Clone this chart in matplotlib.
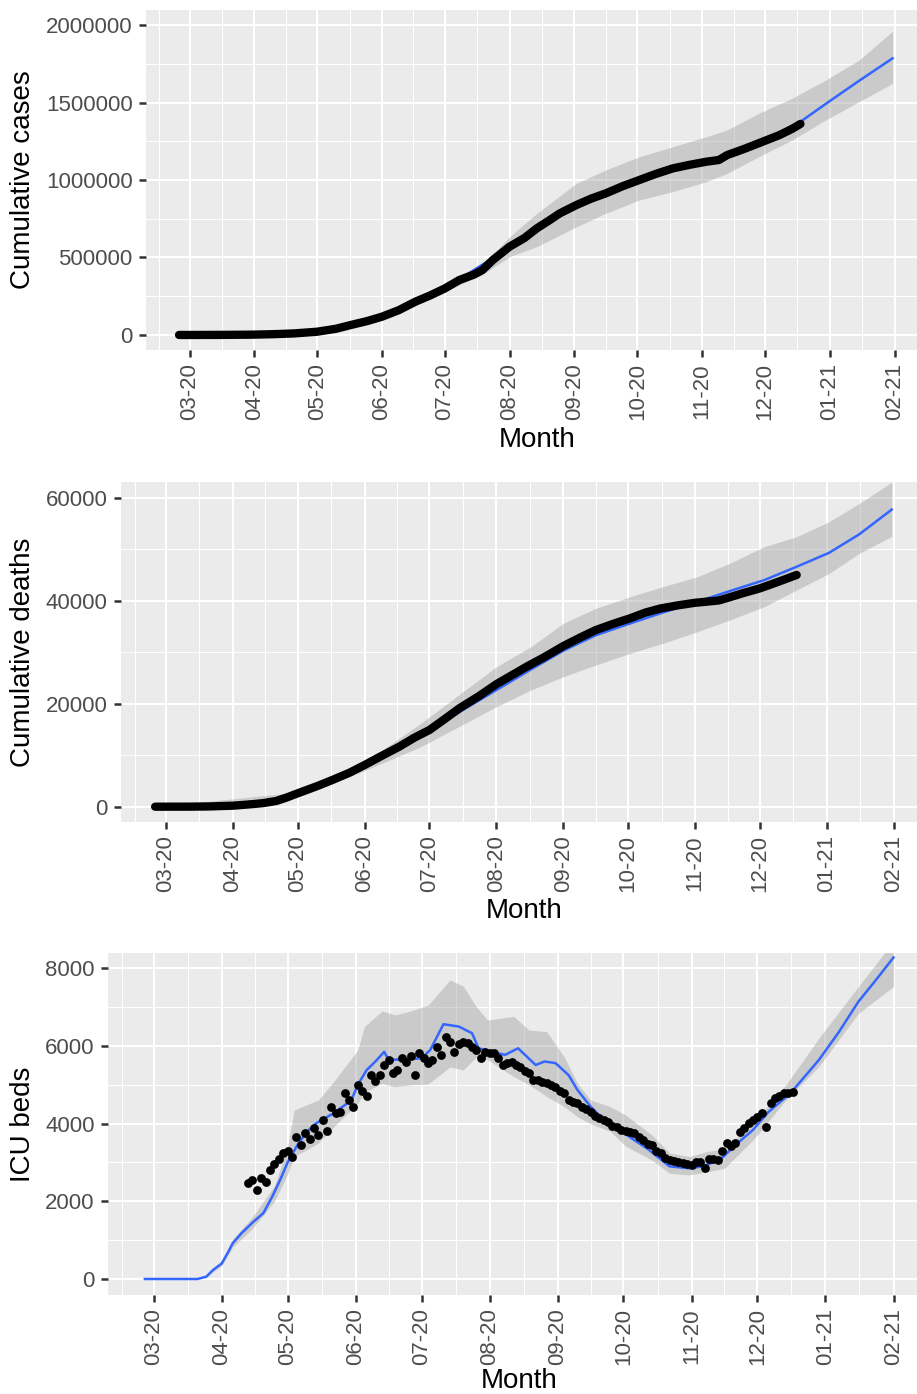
import numpy as np
import matplotlib
matplotlib.use('Agg')
import matplotlib.pyplot as plt
import matplotlib.dates as mdates
from matplotlib.ticker import FixedLocator, FuncFormatter

plt.rcParams['font.family'] = ['Liberation Sans', 'DejaVu Sans']

# all day values are days after 1 March 2020
origin = np.datetime64('2020-03-01')

# ---- cumulative cases
cases_day = [-5, 0, 15, 30, 40, 50, 61, 70, 77, 85, 92, 100, 108, 115, 122, 129, 136, 140, 145,
             153, 160, 166, 172, 177, 185, 192, 199, 207, 215, 223, 231, 239, 247, 253, 257,
             265, 272, 282, 288, 292]
cases_val = [0, 0, 500, 2000, 5000, 10000, 21000, 40000, 64000, 90000, 118000, 160000, 215000,
             255000, 300000, 355000, 390000, 419000, 484000, 570000, 625000, 688000, 740000,
             785000, 839000, 880000, 914000, 960000, 1000000, 1040000, 1075000, 1098000, 1118000,
             1129000, 1161000, 1200000, 1237000, 1290000, 1330000, 1362000]
cases_fit_day = [-5, 61, 92, 122, 153, 177, 199, 215, 247, 272, 292, 305, 320, 336]
cases_fit_val = [0, 20000, 115000, 300000, 565000, 785000, 914000, 1000000, 1118000, 1237000,
                 1376000, 1500000, 1640000, 1785000]
cases_band_day = [-5, 61, 92, 122, 140, 153, 166, 185, 199, 215, 231, 247, 257, 272, 288, 304,
                  320, 336]
cases_lo = [0, 18000, 105000, 280000, 390000, 505000, 570000, 699000, 785000, 871000, 925000,
            989000, 1043000, 1150000, 1258000, 1387000, 1505000, 1624000]
cases_hi = [0, 24000, 130000, 325000, 450000, 634000, 785000, 979000, 1065000, 1150000, 1215000,
            1279000, 1323000, 1430000, 1527000, 1645000, 1774000, 1960000]

# ---- cumulative deaths
deaths_day = [-5, 10, 20, 31, 40, 45, 51, 56, 61, 70, 77, 85, 92, 100, 108, 115, 122, 129, 136,
              145, 153, 160, 167, 175, 184, 192, 199, 207, 215, 222, 229, 237, 245, 250, 256, 262,
              267, 275, 283, 292]
deaths_val = [0, 10, 50, 200, 500, 700, 1100, 1800, 2600, 4000, 5180, 6600, 8100, 9900, 11650,
              13400, 14900, 17000, 19150, 21500, 23800, 25500, 27200, 29000, 31200, 32900, 34300,
              35500, 36600, 37700, 38500, 39100, 39600, 39800, 40050, 40800, 41450, 42400, 43600,
              45000]
deaths_fit_day = [-5, 31, 47, 61, 77, 92, 108, 118, 136, 153, 170, 184, 199, 215, 230, 246, 262,
                  277, 292, 307, 321, 336]
deaths_fit_val = [0, 150, 900, 2500, 5000, 7800, 11200, 13900, 18400, 22660, 26900, 30300, 33300,
                  35600, 37700, 39800, 42000, 44000, 46600, 49300, 52900, 57700]
deaths_band_day = [-5, 61, 92, 118, 153, 169, 184, 199, 215, 230, 246, 261, 277, 292, 307, 321,
                   336]
deaths_lo = [0, 2200, 7000, 11650, 19420, 22660, 25240, 27520, 29780, 31730, 33980, 36250, 38830,
             42080, 45300, 49200, 52500]
deaths_hi = [0, 2800, 8600, 16200, 27180, 31070, 35610, 38520, 40780, 42720, 44660, 47260, 50490,
             52430, 55340, 58900, 63000]

# ---- ICU beds, observed every second day from 13 April 2020
icu_obs_start = 43
icu_obs = [2480, 2550, 2290, 2600, 2500, 2800, 2950, 3100, 3240, 3300, 3150, 3660, 3450, 3750,
           3600, 3880, 3700, 4090, 3800, 4440, 4270, 4300, 4780, 4600, 4440, 5000, 4850, 4700,
           5250, 5100, 5250, 5500, 5640, 5300, 5380, 5680, 5600, 5750, 5250, 5810, 5700, 5550,
           5650, 5980, 5770, 6240, 6110, 5850, 6050, 6110, 6070, 5980, 5900, 5680, 5850, 5830,
           5810, 5700, 5510, 5550, 5600, 5500, 5470, 5350, 5300, 5120, 5120, 5080, 5040, 5000,
           4950, 4850, 4780, 4600, 4560, 4520, 4420, 4390, 4300, 4200, 4140, 4100, 4050, 3950,
           3920, 3830, 3800, 3790, 3750, 3650, 3580, 3480, 3450, 3300, 3240, 3120, 3070, 3040,
           3020, 2980, 2950, 2930, 3000, 3020, 2850, 3100, 3080, 3070, 3300, 3490, 3420, 3500,
           3790, 3900, 4010, 4100, 4180, 4270, 3920, 4520, 4650, 4700, 4780, 4800, 4820]
icu_fit_day = [-4, 20, 24, 27, 31, 34, 36, 40, 45, 50, 54, 58, 61, 66, 70, 74, 82, 90, 93, 97,
               101, 105, 107, 122, 126, 132, 139, 145, 148, 160, 166, 174, 178, 183, 189, 193,
               199, 205, 217, 225, 235, 244, 250, 258, 265, 273, 280, 290, 303, 312, 321, 329, 337]
icu_fit_val = [0, 0, 60, 230, 400, 700, 920, 1180, 1450, 1700, 2120, 2600, 3000, 3500, 3800, 4010,
               4270, 4600, 5000, 5380, 5600, 5850, 5640, 5680, 5900, 6560, 6500, 6330, 5940, 5770,
               5940, 5510, 5600, 5560, 5250, 4870, 4440, 4100, 3650, 3350, 2900, 2850, 2900, 3070,
               3450, 3840, 4300, 4780, 5640, 6350, 7140, 7700, 8280]
icu_band_day = [-4, 20, 24, 27, 31, 36, 45, 55, 61, 64, 75, 82, 93, 96, 104, 110, 117, 125, 135,
                141, 147, 152, 164, 171, 179, 187, 193, 199, 208, 215, 227, 235, 244, 252, 260,
                273, 288, 303, 321, 337]
icu_lo = [0, 0, 40, 180, 340, 820, 1300, 2000, 2700, 3150, 3500, 3920, 4520, 4800, 5040, 4950,
          5000, 5020, 5460, 5380, 5720, 5650, 5210, 5000, 4700, 4437, 4180, 4000, 3800, 3420,
          3060, 2720, 2680, 2760, 2850, 3580, 4610, 5470, 6840, 7530]
icu_hi = [0, 0, 80, 280, 460, 1020, 1600, 2400, 3400, 4350, 4610, 5080, 5900, 6500, 6900, 6800,
          6900, 7050, 7700, 7540, 7010, 6670, 6760, 6410, 6370, 5720, 5040, 4610, 4437, 4220,
          3710, 3240, 3150, 3280, 3350, 4010, 5000, 6200, 7530, 8700]

month_ticks = np.arange('2020-03', '2021-03', dtype='datetime64[M]').astype('datetime64[D]')
x_lo = mdates.date2num(origin) - 20.8
x_hi = mdates.date2num(np.datetime64('2021-02-01')) + 10.7


def todates(days):
    return origin + np.array(days, dtype='timedelta64[D]')


def style(ax, ylim, yticks, yminor):
    ax.set_facecolor('#EBEBEB')
    for s in ax.spines.values():
        s.set_visible(False)
    ax.set_xlim(x_lo, x_hi)
    ax.set_ylim(*ylim)
    mt = mdates.date2num(np.concatenate([[np.datetime64('2020-02-01')], month_ticks,
                                         [np.datetime64('2021-03-01')]]))
    ax.xaxis.set_major_locator(FixedLocator(mdates.date2num(month_ticks)))
    ax.xaxis.set_minor_locator(FixedLocator((mt[:-1] + mt[1:]) / 2))
    ax.xaxis.set_major_formatter(mdates.DateFormatter('%m-%y'))
    ax.set_yticks(yticks)
    ax.yaxis.set_minor_locator(FixedLocator(yminor))
    ax.yaxis.set_major_formatter(FuncFormatter(lambda v, p: '%d' % v))
    ax.grid(which='major', color='white', linewidth=1.5)
    ax.grid(which='minor', color='white', linewidth=0.75)
    ax.set_axisbelow(True)
    ax.tick_params(which='major', length=5, width=1.8, color='#333333',
                   labelcolor='#4D4D4D', labelsize=16, pad=4.5)
    ax.tick_params(which='minor', length=0)
    ax.tick_params(axis='x', labelrotation=90)


fig = plt.figure(figsize=(9.17, 13.94), dpi=100)
W, H = 917.0, 1394.0

# panel 1: cumulative cases
ax1 = fig.add_axes([146 / W, 1 - 350 / H, (W - 146) / W, 340 / H])
style(ax1, (-97000, 2097000), [0, 500000, 1000000, 1500000, 2000000],
      [250000, 750000, 1250000, 1750000])
ax1.fill_between(todates(cases_band_day), cases_lo, cases_hi, color='#999999', alpha=0.4,
                 linewidth=0)
ax1.plot(todates(cases_fit_day), cases_fit_val, color='#3366FF', linewidth=1.8)
ax1.plot(todates(cases_day), cases_val, color='black', linewidth=6,
         solid_capstyle='round', solid_joinstyle='round')

# panel 2: cumulative deaths
ax2 = fig.add_axes([121 / W, 1 - 822 / H, (W - 121) / W, 340 / H])
style(ax2, (-2970, 63050), [0, 20000, 40000, 60000], [10000, 30000, 50000])
ax2.fill_between(todates(deaths_band_day), deaths_lo, deaths_hi, color='#999999', alpha=0.4,
                 linewidth=0)
ax2.plot(todates(deaths_fit_day), deaths_fit_val, color='#3366FF', linewidth=1.8)
ax2.plot(todates(deaths_day), deaths_val, color='black', linewidth=6,
         solid_capstyle='round', solid_joinstyle='round')

# panel 3: ICU beds
ax3 = fig.add_axes([108 / W, 1 - 1295 / H, (W - 108) / W, 342 / H])
style(ax3, (-412, 8394), [0, 2000, 4000, 6000, 8000], [1000, 3000, 5000, 7000])
ax3.fill_between(todates(icu_band_day), icu_lo, icu_hi, color='#999999', alpha=0.4,
                 linewidth=0)
ax3.plot(todates(icu_fit_day), icu_fit_val, color='#3366FF', linewidth=1.8)
icu_obs_day = icu_obs_start + 2 * np.arange(len(icu_obs))
ax3.scatter(todates(icu_obs_day), icu_obs, s=40, color='black', linewidths=0, zorder=3)

# axis titles
for ylab, yc in [('Cumulative cases', 180), ('Cumulative deaths', 652), ('ICU beds', 1124)]:
    fig.text(23 / W, 1 - yc / H, ylab, rotation=90, ha='center', va='center', fontsize=20)
for xc, yc in [(537, 440), (524, 911), (519, 1381)]:
    fig.text(xc / W, 1 - yc / H, 'Month', ha='center', va='center', fontsize=20)

fig.savefig('out.png', dpi=100)
